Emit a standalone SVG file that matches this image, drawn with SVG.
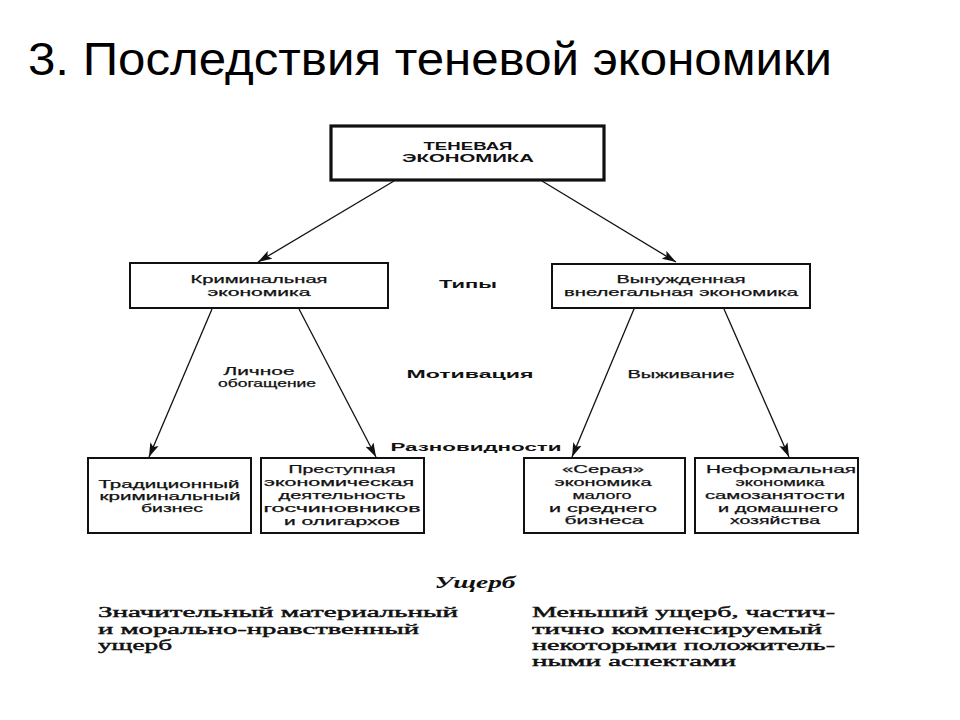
<svg xmlns="http://www.w3.org/2000/svg" width="960" height="720" viewBox="0 0 960 720">
<style>
.bg{fill:#fff}
.box{fill:#fff;stroke:#111;stroke-width:2}
.boxt{fill:#fff;stroke:#111;stroke-width:3.2}
.t{font-family:"Liberation Sans",Arial,sans-serif;font-size:11px;fill:#111;text-anchor:middle;stroke:#111;stroke-width:0.25}
.b{font-weight:bold;stroke-width:0}
.s{font-family:"Liberation Serif","Times New Roman",serif;font-size:15px;fill:#111;stroke:#111;stroke-width:0.45}
.u{font-family:"Liberation Serif","Times New Roman",serif;font-size:16px;fill:#111;font-weight:bold;font-style:italic;text-anchor:middle}
.title{font-family:"Liberation Sans",Arial,sans-serif;font-size:46px;fill:#000}
.ln{stroke:#111;stroke-width:1.3;fill:none;marker-end:url(#ah)}
</style>
<defs>
<marker id="ah" viewBox="0 0 14 10" refX="14" refY="5" markerWidth="14" markerHeight="10" markerUnits="userSpaceOnUse" orient="auto">
<path d="M0,0.5 L14,5 L0,9.5 L3,5 Z" fill="#111"/>
</marker>
</defs>
<rect class="bg" width="960" height="720"/>
<text class="title" x="28" y="75" textLength="804" lengthAdjust="spacingAndGlyphs">3. Последствия теневой экономики</text>

<g id="connectors">
<line class="ln" x1="394" y1="181" x2="258" y2="262"/>
<line class="ln" x1="542" y1="181" x2="676" y2="262"/>
<line class="ln" x1="212" y1="309" x2="149" y2="457"/>
<line class="ln" x1="299" y1="309" x2="376" y2="457"/>
<line class="ln" x1="634" y1="309" x2="572" y2="457"/>
<line class="ln" x1="724" y1="309" x2="789" y2="457"/>
</g>

<g id="n-shadow">
<rect class="boxt" x="331" y="126" width="273" height="54"/>
<text class="t b" x="468" y="150" textLength="89" lengthAdjust="spacingAndGlyphs">ТЕНЕВАЯ</text>
<text class="t b" x="468" y="162" textLength="132" lengthAdjust="spacingAndGlyphs">ЭКОНОМИКА</text>
</g>

<g id="n-criminal">
<rect class="box" x="130" y="263" width="258" height="45"/>
<text class="t" x="259" y="283" textLength="137" lengthAdjust="spacingAndGlyphs">Криминальная</text>
<text class="t" x="259" y="296" textLength="103" lengthAdjust="spacingAndGlyphs">экономика</text>
</g>

<g id="n-forced">
<rect class="box" x="552" y="264" width="258" height="44"/>
<text class="t" x="681" y="283" textLength="129" lengthAdjust="spacingAndGlyphs">Вынужденная</text>
<text class="t" x="681" y="296" textLength="234" lengthAdjust="spacingAndGlyphs">внелегальная экономика</text>
</g>

<g id="labels">
<text class="t b" x="468" y="288" textLength="58" lengthAdjust="spacingAndGlyphs">Типы</text>
<text class="t" x="259" y="375" textLength="71" lengthAdjust="spacingAndGlyphs">Личное</text>
<text class="t" x="267" y="387" textLength="98" lengthAdjust="spacingAndGlyphs">обогащение</text>
<text class="t b" x="470" y="378" textLength="127" lengthAdjust="spacingAndGlyphs">Мотивация</text>
<text class="t" x="681" y="378" textLength="107" lengthAdjust="spacingAndGlyphs">Выживание</text>
<text class="t b" x="476" y="451" textLength="171" lengthAdjust="spacingAndGlyphs">Разновидности</text>
</g>

<g id="n-traditional">
<rect class="box" x="88" y="458" width="163" height="75"/>
<text class="t" x="169" y="488" textLength="141" lengthAdjust="spacingAndGlyphs">Традиционный</text>
<text class="t" x="170" y="500" textLength="141" lengthAdjust="spacingAndGlyphs">криминальный</text>
<text class="t" x="172" y="512" textLength="62" lengthAdjust="spacingAndGlyphs">бизнес</text>
</g>

<g id="n-crime-officials">
<rect class="box" x="261" y="458" width="163" height="75"/>
<text class="t" x="342" y="473" textLength="107" lengthAdjust="spacingAndGlyphs">Преступная</text>
<text class="t" x="339" y="486" textLength="150" lengthAdjust="spacingAndGlyphs">экономическая</text>
<text class="t" x="342" y="499" textLength="127" lengthAdjust="spacingAndGlyphs">деятельность</text>
<text class="t" x="342" y="512" textLength="157" lengthAdjust="spacingAndGlyphs">госчиновников</text>
<text class="t" x="342" y="525" textLength="116" lengthAdjust="spacingAndGlyphs">и олигархов</text>
</g>

<g id="n-grey">
<rect class="box" x="524" y="458" width="161" height="75"/>
<text class="t" x="603" y="473" textLength="82" lengthAdjust="spacingAndGlyphs">«Серая»</text>
<text class="t" x="603" y="486" textLength="97" lengthAdjust="spacingAndGlyphs">экономика</text>
<text class="t" x="602" y="499" textLength="59" lengthAdjust="spacingAndGlyphs">малого</text>
<text class="t" x="603" y="512" textLength="108" lengthAdjust="spacingAndGlyphs">и среднего</text>
<text class="t" x="604" y="524" textLength="79" lengthAdjust="spacingAndGlyphs">бизнеса</text>
</g>

<g id="n-informal">
<rect class="box" x="695" y="458" width="163" height="75"/>
<text class="t" x="781" y="473" textLength="150" lengthAdjust="spacingAndGlyphs">Неформальная</text>
<text class="t" x="780" y="486" textLength="89" lengthAdjust="spacingAndGlyphs">экономика</text>
<text class="t" x="775" y="499" textLength="140" lengthAdjust="spacingAndGlyphs">самозанятости</text>
<text class="t" x="778" y="512" textLength="120" lengthAdjust="spacingAndGlyphs">и домашнего</text>
<text class="t" x="775" y="524" textLength="90" lengthAdjust="spacingAndGlyphs">хозяйства</text>
</g>

<g id="damage">
<text class="u" x="475" y="588" textLength="81" lengthAdjust="spacingAndGlyphs">Ущерб</text>
<text class="s" x="98" y="617" textLength="360" lengthAdjust="spacingAndGlyphs">Значительный материальный</text>
<text class="s" x="98" y="634" textLength="321" lengthAdjust="spacingAndGlyphs">и морально-нравственный</text>
<text class="s" x="98" y="650" textLength="74" lengthAdjust="spacingAndGlyphs">ущерб</text>
<text class="s" x="532" y="617" textLength="303" lengthAdjust="spacingAndGlyphs">Меньший ущерб, частич-</text>
<text class="s" x="532" y="634" textLength="290" lengthAdjust="spacingAndGlyphs">тично компенсируемый</text>
<text class="s" x="532" y="650" textLength="303" lengthAdjust="spacingAndGlyphs">некоторыми положитель-</text>
<text class="s" x="532" y="666" textLength="204" lengthAdjust="spacingAndGlyphs">ными аспектами</text>
</g>
</svg>
